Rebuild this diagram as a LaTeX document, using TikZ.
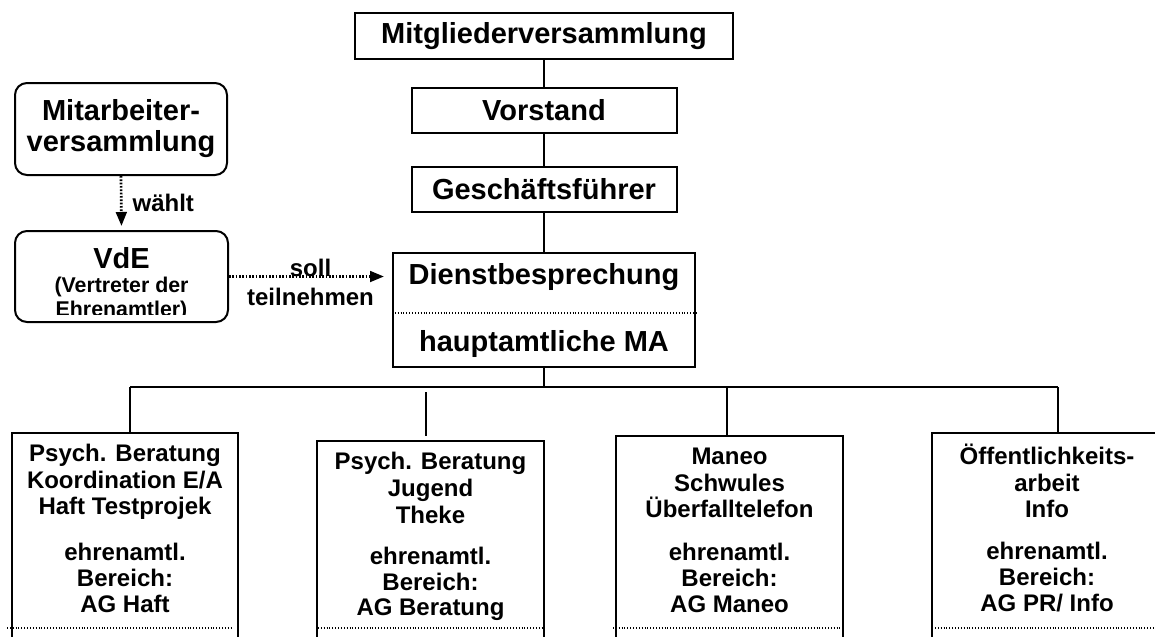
\documentclass[tikz,border=0pt]{standalone}
\usepackage{fontspec}
\setmainfont{Liberation Sans}
\usetikzlibrary{arrows.meta}
\begin{document}
\begin{tikzpicture}[x=0.75pt,y=-0.75pt,
  box/.style={draw, line width=1.5pt, inner sep=0pt},
  rbox/.style={box, rounded corners=9pt},
  big/.style={font=\fontsize{21.75}{23.25}\selectfont\bfseries, align=center, inner sep=0pt},
  small/.style={font=\fontsize{16}{18.5}\selectfont\bfseries, inner sep=0pt},
  mid/.style={font=\fontsize{18}{20}\selectfont\bfseries, align=center, inner sep=0pt},
  midb/.style={font=\fontsize{18}{19.2}\selectfont\bfseries, align=center, inner sep=0pt},
  conn/.style={line width=1.1pt},
  divider/.style={line width=0.9pt, dash pattern=on 0.75pt off 1.4pt},
  dotarrow/.style={line width=2pt, dash pattern=on 1.3pt off 1.2pt,
     -{Triangle[length=10.5pt,width=8pt]}},
]
\useasboundingbox (0,0) rectangle (1155,636);
\clip (0,0) rectangle (1155,636);

% main column
\node[box, big, minimum width=283.5pt, minimum height=34.5pt] (mv) at (544,36) {Mitgliederversammlung};
\node[box, big, minimum width=198.75pt, minimum height=33.75pt] (vs) at (544,110.5) {Vorstand};
\node[box, big, minimum width=198.75pt, minimum height=33.75pt] (gf) at (544,189.5) {Geschäftsführer};
\node[box, minimum width=226.5pt, minimum height=85.5pt] (db) at (544,310) {};
\node[big] (dbt) at (544,277) {Dienstbesprechung};
\node[big] (dbb) at (544,344) {hauptamtliche MA};
\draw[divider] (db.west |- 0,313) -- (db.east |- 0,313);

\draw[conn] (mv) -- (vs);
\draw[conn] (vs) -- (gf);
\draw[conn] (gf) -- (db);

% left column
\node[rbox, big, minimum width=159pt, minimum height=69pt] (mav) at (121,129) {Mitarbeiter-\\versammlung};
\node[rbox, minimum width=159.75pt, minimum height=68.25pt] (vde) at (121.5,276.5) {};
\begin{scope}
  \clip (15,231) rectangle (228,314);
  \node[big] (vdet) at (121.5,258) {VdE};
  \node[small] (vdem) at (121.5,286.5) {(Vertreter der};
  \node[small] (vdeb) at (121.5,311) {Ehrenamtler)};
\end{scope}

\draw[dotarrow, shorten >=3pt] (mav.south) -- (vde.north)
  node[midway, right, mid, xshift=7.5pt] (waehlt) {wählt};
\draw[dotarrow, shorten >=6pt] (vde.east) -- (vde.east -| db.west)
  node[midway, above, mid, yshift=-1pt] (soll) {soll}
  node[midway, below, mid, yshift=-7.5pt] (teil) {teilnehmen};

% bottom boxes
\node[box, minimum width=169.5pt, minimum height=230.25pt] (b1) at (125,586.5) {};
\node[box, minimum width=170.25pt, minimum height=224.25pt] (b2) at (430.5,590.5) {};
\node[box, minimum width=170.25pt, minimum height=228pt] (b3) at (729.5,588) {};
\node[box, minimum width=172.5pt, minimum height=230.25pt] (b4) at (1047,586.5) {};

\node[mid] (b1a) at (125,482) {Psych. Beratung\\Koordination E/A\\Haft Testprojek};
\node[midb] (b1b) at (125,578) {ehrenamtl.\\Bereich:\\AG Haft};
\node[mid] (b2a) at (430.5,488) {Psych. Beratung\\Jugend\\Theke};
\node[midb] (b2b) at (430.5,584) {ehrenamtl.\\Bereich:\\AG Beratung};
\node[mid] (b3a) at (729.5,483) {Maneo\\Schwules\\Überfalltelefon};
\node[midb] (b3b) at (729.5,578) {ehrenamtl.\\Bereich:\\AG Maneo};
\node[mid] (b4a) at (1047,481) {Öffentlichkeits-\\arbeit\\Info};
\node[midb] (b4b) at (1047,577) {ehrenamtl.\\Bereich:\\AG PR/ Info};

\draw[divider] (7,628) -- (233,628);
\draw[divider] (318,628) -- (543,628);
\draw[divider] (613,628) -- (840,628);
\draw[divider] (935,628) -- (1155,628);

% connectors to bottom boxes
\coordinate (hub) at (544,387);
\coordinate (jl) at (130,387);
\coordinate (jr) at (1058,387);
\coordinate (j2) at (426,392);
\coordinate (j3) at (727,387);
\draw[conn] (db.south) -- (hub);
\draw[conn] (jl) -- (jr);
\draw[conn] (jl) -- (jl |- b1.north);
\draw[conn] (j2) -- ([yshift=3pt]j2 |- b2.north);
\draw[conn] (j3) -- (j3 |- b3.north);
\draw[conn] (jr) -- (jr |- b4.north);
\end{tikzpicture}
\end{document}
